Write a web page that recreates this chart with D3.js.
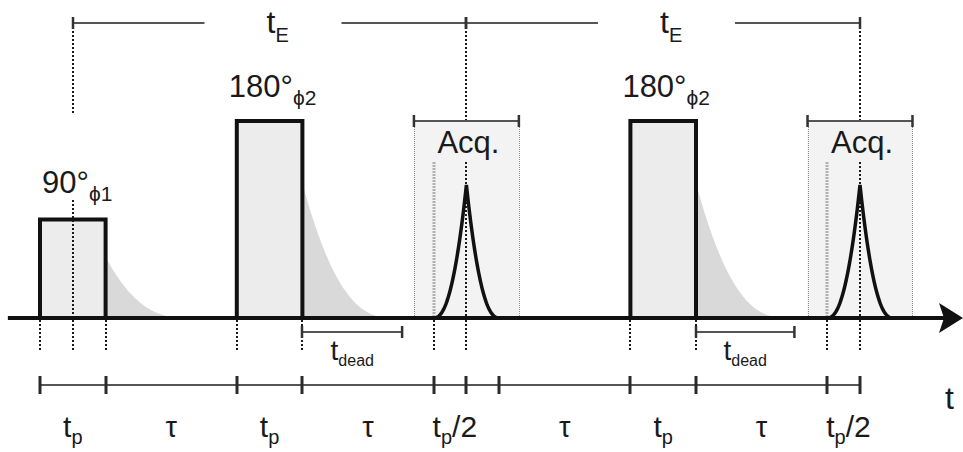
<!DOCTYPE html>
<html><head><meta charset="utf-8">
<script src="https://cdn.jsdelivr.net/npm/d3@7"></script>
<style>body{margin:0;background:#fff}svg{display:block}text{font-family:"Liberation Sans",Arial,sans-serif;fill:#1a1a1a}</style>
</head><body><svg id="c" width="963" height="452"></svg>
<script>
// ---- data (time in units of t_p, amplitude relative to 90° pulse) ----
const pulseStart = [0, 3, 9];
const pulseEnd   = [1, 4, 10];
const pulseAmp   = [1, 2, 2];
const pulseAngle = ["90°", "180°", "180°"];
const pulsePhase = ["ϕ1", "ϕ2", "ϕ2"];
const decayStart = [1, 4, 10];
const decayEnd   = [2.24, 5.38, 11.38];
const decayAmp   = [0.62, 1.37, 1.37];
const echoCenter = [6.5, 12.5];
const echoAmp    = [1.35, 1.35];
const echoHalf   = [0.5, 0.5];
const acqStart   = [5.7, 11.7];
const acqEnd     = [7.3, 13.3];
const acqTop     = [2, 2];
const deadStart  = [4, 10];
const deadEnd    = [5.52, 11.5];
const tickTimes  = [0, 1, 3, 4, 6, 6.5, 7, 9, 10, 12, 12.5];
const guideTimes = [0, 0.5, 1, 3, 4, 6, 6.5, 9, 10, 12, 12.5];
const segLabels  = [
  {a:0, b:1, main:"t", sub:"p", tail:""},
  {a:1, b:3, main:"τ", sub:"", tail:""},
  {a:3, b:4, main:"t", sub:"p", tail:""},
  {a:4, b:6, main:"τ", sub:"", tail:""},
  {a:6, b:6.5, main:"t", sub:"p", tail:"/2", start:true},
  {a:7, b:9, main:"τ", sub:"", tail:""},
  {a:9, b:10, main:"t", sub:"p", tail:""},
  {a:10, b:12, main:"τ", sub:"", tail:""},
  {a:12, b:12.5, main:"t", sub:"p", tail:"/2", start:true}
];
const echoTimeStart = [0.5, 6.5];
const echoTimeEnd   = [6.5, 12.5];
const axisStart = -0.49, axisEnd = 14.07;

// ---- scales ----
const x = d3.scaleLinear().domain([0, 12.5]).range([40, 860]);
const y = d3.scaleLinear().domain([0, 2]).range([318, 121]);
const xr = t => Math.round(x(t));
const svg = d3.select("#c");
const base = y(0);

// acquisition windows
acqStart.forEach((s, i) => {
  svg.append("rect").attr("x", x(s)).attr("y", y(acqTop[i]))
    .attr("width", x(acqEnd[i]) - x(s)).attr("height", base - y(acqTop[i]))
    .attr("fill", "#f3f3f3");
  [s, acqEnd[i]].forEach(t => svg.append("line").attr("x1", xr(t) + 0.5).attr("x2", xr(t) + 0.5)
    .attr("y1", y(acqTop[i])).attr("y2", base).attr("stroke", "#8a8a8a")
    .attr("stroke-width", 1).attr("stroke-dasharray", "1,1"));
  const es = echoCenter[i] - echoHalf[i];
  svg.append("line").attr("x1", xr(es)).attr("x2", xr(es)).attr("y1", 162).attr("y2", base)
    .attr("stroke", "#b0b0b0").attr("stroke-width", 3).attr("stroke-dasharray", "2,1");
});

// FID decays
const area = d3.area().x(d => x(d[0])).y0(base).y1(d => y(d[1])).curve(d3.curveBasis);
decayStart.forEach((s, i) => {
  const n = 40, pts = [];
  for (let k = 0; k <= n; k++) {
    const f = k / n;
    pts.push([s + f * (decayEnd[i] - s), decayAmp[i] * Math.pow(1 - f, 2.5)]);
  }
  svg.append("path").attr("d", area(pts)).attr("fill", "#d9d9d9");
});

// pulses
pulseStart.forEach((s, i) => {
  svg.append("rect").attr("x", x(s)).attr("y", y(pulseAmp[i]))
    .attr("width", x(pulseEnd[i]) - x(s)).attr("height", base - y(pulseAmp[i]))
    .attr("fill", "#ececec").attr("stroke", "#111").attr("stroke-width", 4);
});

// dotted guides
const dot = (xx, y1, y2) => svg.append("line").attr("x1", xx).attr("x2", xx)
  .attr("y1", y1).attr("y2", y2).attr("stroke", "#1a1a1a")
  .attr("stroke-width", 2).attr("stroke-dasharray", "2,2");
guideTimes.forEach(t => dot(xr(t), base + 2, 352));
dot(xr(0.5), 23, 113);
dot(xr(0.5), 200, base);
echoCenter.forEach(c => { dot(xr(c), 23, y(2)); dot(xr(c), 162, base); });

// echoes
const line = d3.line().x(d => x(d[0])).y(d => y(d[1]));
echoCenter.forEach((c, i) => {
  const n = 40, pts = [];
  for (let k = -n; k <= n; k++) {
    const f = Math.abs(k) / n;
    pts.push([c + (k / n) * echoHalf[i], echoAmp[i] * Math.pow(1 - f, 2.3)]);
  }
  svg.append("path").attr("d", line(pts)).attr("fill", "none")
    .attr("stroke", "#111").attr("stroke-width", 3.5).attr("stroke-linejoin", "miter");
});

// baseline + arrow
svg.append("line").attr("x1", x(axisStart)).attr("x2", x(axisEnd) - 10)
  .attr("y1", base).attr("y2", base).attr("stroke", "#111").attr("stroke-width", 4);
svg.append("path").attr("d", `M${x(axisEnd)},${base} L${x(axisEnd) - 24},${base - 15} L${x(axisEnd) - 19},${base} L${x(axisEnd) - 24},${base + 15} Z`)
  .attr("fill", "#111");

// bracket helper
function bracket(x1, x2, yy, gapA, gapB) {
  const g = svg.append("g").attr("stroke", "#555").attr("stroke-width", 2);
  if (gapA == null) g.append("line").attr("x1", x1).attr("x2", x2).attr("y1", yy).attr("y2", yy);
  else {
    g.append("line").attr("x1", x1).attr("x2", gapA).attr("y1", yy).attr("y2", yy);
    g.append("line").attr("x1", gapB).attr("x2", x2).attr("y1", yy).attr("y2", yy);
  }
  [x1, x2].forEach(v => g.append("line").attr("x1", v).attr("x2", v)
    .attr("y1", yy - 6).attr("y2", yy + 6).attr("stroke", "#333").attr("stroke-width", 2.5));
}

// t_E brackets
echoTimeStart.forEach((s, i) => {
  const a = xr(s), b = xr(echoTimeEnd[i]), m = (a + b) / 2;
  bracket(a, b, 23, m - 65, m + 72);
  const t = svg.append("text").attr("x", m - 3).attr("y", 33).style("font-size", "32px");
  t.append("tspan").text("t");
  t.append("tspan").attr("dy", 9).style("font-size", "20px").text("E");
});

// acquisition brackets + labels
acqStart.forEach((s, i) => {
  bracket(x(s), x(acqEnd[i]), y(acqTop[i]), null, null);
  svg.append("text").attr("x", x(echoCenter[i]) + 2).attr("y", 153)
    .attr("text-anchor", "middle").style("font-size", "31px").text("Acq.");
});

// dead time brackets + labels
deadStart.forEach((s, i) => {
  bracket(xr(s), x(deadEnd[i]), 332, null, null);
  const m = (x(s) + x(deadEnd[i])) / 2;
  const t = svg.append("text").attr("x", m).attr("y", 360).attr("text-anchor", "middle").style("font-size", "28px");
  t.append("tspan").text("t");
  t.append("tspan").attr("dy", 6).style("font-size", "16px").text("dead");
});

// pulse labels
const labelPos = [{dx: 2, y: 193}, {dx: -8, y: 97}, {dx: -8, y: 97}];
pulseStart.forEach((s, i) => {
  const t = svg.append("text").attr("x", x(s) + labelPos[i].dx).attr("y", labelPos[i].y).style("font-size", "31px");
  t.append("tspan").text(pulseAngle[i]);
  t.append("tspan").attr("dy", 8).style("font-size", "21px").text(pulsePhase[i]);
});

// timing bar
svg.append("line").attr("x1", x(tickTimes[0])).attr("x2", x(tickTimes[tickTimes.length - 1]))
  .attr("y1", 385).attr("y2", 385).attr("stroke", "#555").attr("stroke-width", 2);
tickTimes.forEach(t => svg.append("line").attr("x1", xr(t)).attr("x2", xr(t))
  .attr("y1", 376).attr("y2", 394).attr("stroke", "#2a2a2a").attr("stroke-width", 3));

segLabels.forEach(d => {
  const t = svg.append("text").attr("y", 437).style("font-size", d.main === "τ" ? "29px" : "30px");
  if (d.start) t.attr("x", x(d.a) - 1);
  else t.attr("x", (x(d.a) + x(d.b)) / 2).attr("text-anchor", "middle");
  t.append("tspan").text(d.main);
  if (d.sub) t.append("tspan").attr("dy", 7).style("font-size", "20px").text(d.sub);
  if (d.tail) t.append("tspan").attr("dy", -7).text(d.tail);
});

// axis label
svg.append("text").attr("x", 945).attr("y", 409).style("font-size", "32px").text("t");
</script></body></html>
